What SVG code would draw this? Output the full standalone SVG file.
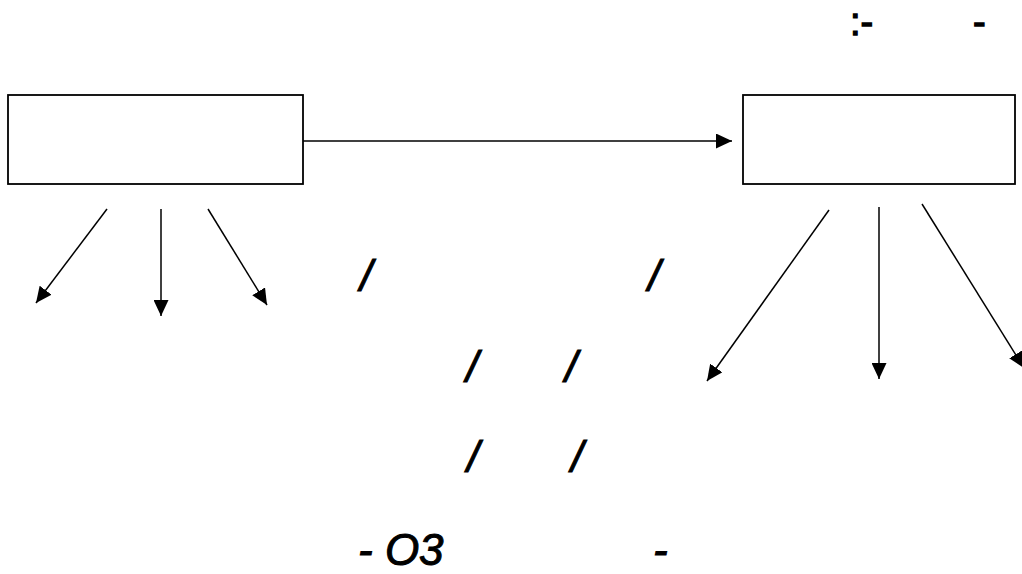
<svg xmlns="http://www.w3.org/2000/svg" width="1022" height="574" viewBox="0 0 1022 574">
<style>
.box{fill:#fff;stroke:#000;stroke-width:1.8}
.ln{stroke:#000;stroke-width:1.5;fill:none;marker-end:url(#ah)}
.t{font-family:"Liberation Sans",Arial,sans-serif;font-size:44px;fill:#000;stroke:#000;stroke-width:1}
.i{font-style:italic}
.top{font-size:38px;stroke-width:1.3}
</style>
<defs>
<marker id="ah" markerUnits="userSpaceOnUse" markerWidth="16" markerHeight="15" refX="16" refY="7.5" orient="auto" viewBox="0 0 16 15">
<path d="M0,0 L16,7.5 L0,15 z" fill="#000"/>
</marker>
</defs>
<rect width="1022" height="574" fill="#fff"/>
<g id="node-left"><rect class="box" x="8" y="95" width="295" height="89"/></g>
<g id="node-right"><rect class="box" x="743" y="95" width="272" height="89"/></g>
<g id="connectors">
<line class="ln" x1="303" y1="141" x2="732" y2="141"/>
<line class="ln" x1="107" y1="209" x2="36" y2="303"/>
<line class="ln" x1="161" y1="209" x2="161" y2="316"/>
<line class="ln" x1="208" y1="209" x2="267" y2="305"/>
<line class="ln" x1="829" y1="210" x2="707" y2="381"/>
<line class="ln" x1="879" y1="207" x2="879" y2="379"/>
<line class="ln" x1="922" y1="204" x2="1024" y2="368"/>
</g>
<g id="labels">
<text class="t top" x="850" y="35">:-</text>
<text class="t top" x="973" y="35">-</text>
<text class="t i" x="366" y="291" text-anchor="middle">/</text>
<text class="t i" x="654" y="291" text-anchor="middle">/</text>
<text class="t i" x="472" y="382" text-anchor="middle">/</text>
<text class="t i" x="571" y="382" text-anchor="middle">/</text>
<text class="t i" x="473" y="472" text-anchor="middle">/</text>
<text class="t i" x="577" y="472" text-anchor="middle">/</text>
<text class="t i" x="358" y="565">- O3</text>
<text class="t i" x="653" y="565">-</text>
</g>
</svg>
